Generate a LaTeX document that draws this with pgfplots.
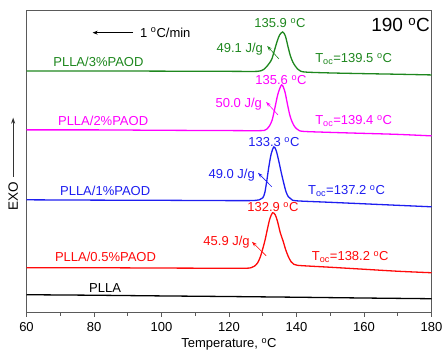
\documentclass[border=0pt]{standalone}
\usepackage{fontspec}
\setmainfont{Liberation Sans}
\usepackage{pgfplots}
\pgfplotsset{compat=1.18}
\usetikzlibrary{calc,arrows.meta}
\definecolor{cgreen}{RGB}{30,135,30}
\definecolor{cmag}{RGB}{255,0,255}
\definecolor{cblue}{RGB}{30,30,240}
\definecolor{cred}{RGB}{255,10,10}
\definecolor{framec}{RGB}{90,90,90}
\newcommand{\dg}{\textsuperscript{o}}
\tikzset{lbl/.style={inner sep=0pt, font=\fontsize{13}{15}\selectfont}}
\begin{document}
\begin{tikzpicture}
\begin{axis}[name=ax, scale only axis, width=405pt, height=302pt,
  xmin=60, xmax=180, ymin=-2, ymax=300.3,
  xtick={60,80,...,180}, minor xtick={70,90,...,170},
  xtick pos=bottom, tick align=outside, ytick=\empty,
  major tick length=4pt, minor tick length=3pt,
  axis line style={framec, line width=0.9pt},
  every tick/.style={framec, line width=0.9pt},
  clip=false,
  ticklabel style={font=\fontsize{13}{15}\selectfont, inner sep=0pt},
  xticklabel style={yshift=-6pt},
  /pgf/number format/assume math mode=true,
  xlabel={Temperature, \dg C},
  xlabel style={font=\fontsize{13}{15}\selectfont, at={(axis description cs:0.5,0)}, anchor=center, yshift=-32pt},
  ylabel={EXO},
  ylabel style={font=\fontsize{13.5}{15}\selectfont, at={(axis description cs:-0.033,0.387)}, anchor=center},
]
% PLLA
\addplot[black, line width=1.3pt] coordinates {(60,16) (80,15.5) (100,14.8) (120,14.2) (140,13.5) (160,12.7) (180,12)};
% PLLA/0.5%PAOD
\addplot[cred, line width=1.3pt, smooth] coordinates {
(60,43) (80,43) (100,42.7) (120,42.5) (125,42.5) (126.5,43) (127.5,44.5) (128.5,48) (129.3,54) (130,62) (130.7,71) (131.4,82) (132.1,92) (132.9,98) (133.7,96) (134.4,89) (135.2,78) (136,70) (136.8,61) (137.6,54) (138.4,49) (139.2,46.5) (140.2,45.5) (142,45) (150,43.5) (160,41.5) (170,39.5) (180,38)};
% PLLA/1%PAOD
\addplot[cblue, line width=1.3pt, smooth] coordinates {
(60,111) (80,110.7) (100,110.5) (120,110.2) (126,110.2) (128,110.5) (129,111) (130,113) (130.6,118) (131.2,130) (131.8,144) (132.5,157) (133.3,164) (134,160) (134.8,149) (135.5,138) (136.2,128) (136.9,119) (137.6,114) (138.5,111.5) (140,110) (150,108.5) (160,107) (170,105.5) (180,104)};
% PLLA/2%PAOD
\addplot[cmag, line width=1.3pt, smooth] coordinates {
(60,181) (80,181) (100,180.6) (120,180.3) (128,180.2) (130.5,180.5) (131.3,182) (132,185) (132.8,191) (133.6,203) (134.5,217) (135.6,226) (136.5,220) (137.3,207) (138,196) (138.7,189) (139.5,184) (140.5,181) (142,179.5) (150,178.5) (160,177.5) (170,176.5) (180,175)};
% PLLA/3%PAOD
\addplot[cgreen, line width=1.3pt, smooth] coordinates {
(60,240) (80,240) (100,239.8) (120,239.6) (126,239.5) (128.5,239.6) (129.5,240.2) (130.3,241.5) (131.2,244.5) (132,248) (132.7,252) (133.5,261) (134.3,270) (135,276) (135.9,279) (136.7,275) (137.5,264) (138.2,255) (138.9,249) (139.6,245) (140.3,242) (141.2,239.8) (143,238.8) (150,238) (160,237.3) (170,236.7) (180,236)};

% annotations
\draw[-{Stealth[length=5pt,width=4pt]}, black, line width=0.8pt] (axis cs:91.6,278.3) -- (axis cs:79.6,278.3);
\node[lbl, anchor=west] at (axis cs:93.6,278.3) {1 \dg C/min};
\node[lbl, anchor=east, font=\fontsize{19}{22}\selectfont] at (axis cs:179.6,286) {190 \dg C};

\node[lbl, cgreen] at (axis cs:135.1,288) {135.9 \dg C};
\node[lbl, cgreen, anchor=east] at (axis cs:130.1,262) {49.1 J/g};
\draw[cgreen, line width=0.6pt, -{Stealth[length=5pt,width=3.5pt]}] (axis cs:134.8,252) -- (axis cs:131.3,265);
\node[lbl, cgreen, anchor=west] at (axis cs:67.9,249) {PLLA/3\%PAOD};
\node[lbl, cgreen, anchor=west] at (axis cs:145.5,252) {T\textsubscript{oc}=139.5 \dg C};

\node[lbl, cmag] at (axis cs:135.4,231) {135.6 \dg C};
\node[lbl, cmag, anchor=east] at (axis cs:129.8,207) {50.0 J/g};
\draw[cmag, line width=0.6pt, -{Stealth[length=5pt,width=3.5pt]}] (axis cs:134.5,196) -- (axis cs:131.0,209);
\node[lbl, cmag, anchor=west] at (axis cs:69.3,190) {PLLA/2\%PAOD};
\node[lbl, cmag, anchor=west] at (axis cs:145.5,190) {T\textsubscript{oc}=139.4 \dg C};

\node[lbl, cblue] at (axis cs:133.3,169) {133.3 \dg C};
\node[lbl, cblue, anchor=east] at (axis cs:127.7,136) {49.0 J/g};
\draw[cblue, line width=0.6pt, -{Stealth[length=5pt,width=3.5pt]}] (axis cs:132.7,124) -- (axis cs:128.6,138);
\node[lbl, cblue, anchor=west] at (axis cs:69.9,120) {PLLA/1\%PAOD};
\node[lbl, cblue, anchor=west] at (axis cs:143.4,120) {T\textsubscript{oc}=137.2 \dg C};

\node[lbl, cred] at (axis cs:133.0,104) {132.9 \dg C};
\node[lbl, cred, anchor=east] at (axis cs:126.2,69) {45.9 J/g};
\draw[cred, line width=0.6pt, -{Stealth[length=5pt,width=3.5pt]}] (axis cs:131.0,55) -- (axis cs:126.8,69);
\node[lbl, cred, anchor=west] at (axis cs:68.4,54) {PLLA/0.5\%PAOD};
\node[lbl, cred, anchor=west] at (axis cs:144.5,54) {T\textsubscript{oc}=138.2 \dg C};

\node[lbl, black, anchor=west] at (axis cs:78.5,23) {PLLA};

\draw[black!80, line width=0.8pt, -{Stealth[length=6pt,width=4pt]}] (rel axis cs:-0.033,0.45) -- (rel axis cs:-0.033,0.646);
\end{axis}
\pgfresetboundingbox
\path ($(ax.south west)+(-26.5pt,-38pt)$) rectangle ($(ax.north east)+(11.5pt,10.7pt)$);
\end{tikzpicture}
\end{document}
